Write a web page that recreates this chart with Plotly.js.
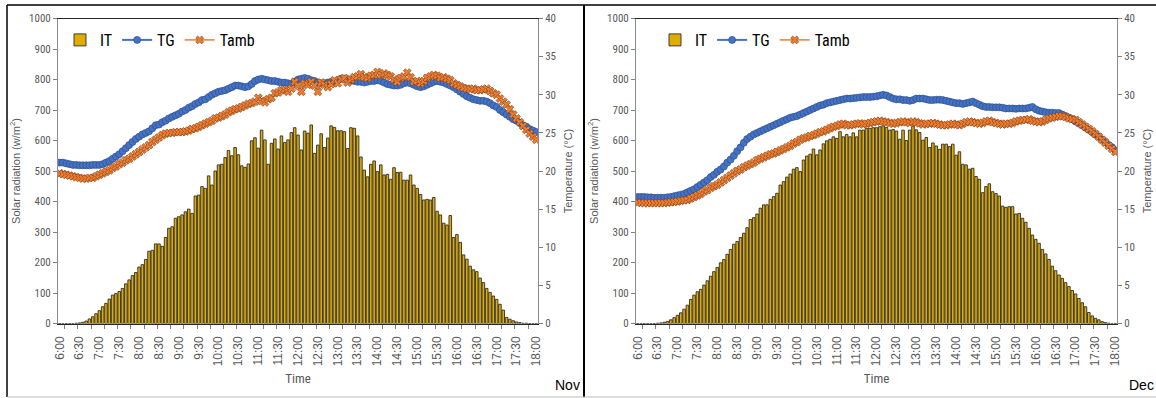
<!DOCTYPE html>
<html><head><meta charset="utf-8">
<script src="https://cdn.plot.ly/plotly-3.0.1.min.js"></script>
<style>html,body{margin:0;padding:0;background:#fff}#chart{width:1156px;height:398px}</style>
</head><body><div id="chart"></div>
<script>
// Time axis labels (every 30 minutes)
const tickLabels = ["6:00","6:30","7:00","7:30","8:00","8:30","9:00","9:30","10:00","10:30","11:00","11:30",
  "12:00","12:30","13:00","13:30","14:00","14:30","15:00","15:30","16:00","16:30","17:00","17:30","18:00"];

// Nov: solar radiation IT (W/m2), 5-min steps 6:00..18:00
const novIT = [
  0,0,0,0,0,1,2,4,8,15,22,32,
  42,55,66,80,93,98,105,115,130,143,157,167,
  185,193,210,237,240,261,261,253,282,312,317,345,
  350,356,366,375,361,418,421,449,443,484,454,500,
  520,522,544,567,550,577,553,517,512,523,599,609,
  575,634,602,522,591,605,572,615,593,602,626,642,
  618,569,631,624,651,558,585,622,577,608,648,643,
  632,632,629,574,642,640,615,546,503,481,522,533,
  498,520,487,489,473,511,495,496,470,470,487,454,
  443,423,405,407,405,413,368,356,329,323,354,282,
  292,266,225,211,188,176,170,149,134,115,102,90,
  79,63,44,20,14,9,5,3,1,1,0,0,
  0];
// Nov: TG (°C)
const novTG = [
  21.1,21.1,21.0,20.9,20.8,20.8,20.75,20.75,20.75,20.75,20.8,20.8,
  20.8,20.9,21.1,21.3,21.6,21.9,22.2,22.6,23.0,23.4,23.8,24.2,
  24.5,24.8,25.0,25.2,25.6,26.0,26.1,26.4,26.6,26.9,27.1,27.3,
  27.5,27.8,28.0,28.3,28.5,28.8,29.0,29.3,29.4,29.7,30.0,30.2,
  30.4,30.5,30.6,30.8,31.0,31.2,31.2,31.1,31.0,31.1,31.4,31.8,
  32.0,32.1,32.0,31.9,31.8,31.8,31.7,31.6,31.6,31.5,31.4,31.7,
  32.0,32.1,32.2,32.1,31.9,31.8,31.6,31.5,31.5,31.6,31.7,31.7,
  31.9,32.1,32.1,32.0,31.9,31.8,31.7,31.7,31.6,31.7,31.8,31.8,
  31.9,31.8,31.6,31.4,31.3,31.2,31.2,31.3,31.5,31.6,31.5,31.3,
  31.1,31.0,31.1,31.3,31.5,31.7,31.8,31.7,31.6,31.4,31.2,31.0,
  30.7,30.4,30.1,29.8,29.6,29.4,29.3,29.2,29.2,29.1,28.9,28.6,
  28.4,28.0,27.7,27.4,27.1,26.8,26.6,26.3,26.0,25.8,25.5,25.3,
  25.1];
// Nov: Tamb (°C)
const novTamb = [
  19.7,19.6,19.5,19.4,19.3,19.2,19.1,19.0,19.0,19.1,19.1,19.3,
  19.5,19.7,19.9,20.1,20.4,20.6,20.9,21.1,21.4,21.6,21.9,22.2,
  22.5,22.8,23.1,23.4,23.8,24.1,24.4,24.7,24.9,25.0,25.0,25.1,
  25.1,25.1,25.2,25.3,25.5,25.6,25.8,26.0,26.2,26.4,26.6,26.9,
  27.0,27.2,27.4,27.7,27.9,28.1,28.2,28.4,28.6,28.8,28.9,29.1,
  29.6,29.2,29.0,29.4,29.6,30.2,30.3,30.6,30.7,30.4,30.8,31.7,
  31.2,30.4,31.5,31.3,31.7,31.2,30.4,31.6,31.3,31.0,31.4,31.9,
  31.5,32.0,32.2,31.6,32.0,32.3,32.4,32.7,32.3,32.2,32.5,32.6,
  33.0,32.6,32.8,32.6,32.4,32.0,31.7,32.2,32.4,32.9,32.3,31.7,
  31.8,31.5,31.8,32.2,32.4,32.6,32.5,32.2,32.3,32.1,31.9,31.5,
  31.3,31.1,30.9,30.8,30.7,30.8,30.6,30.6,30.7,30.8,30.5,30.2,
  30.0,29.5,29.1,28.7,28.1,27.4,26.9,26.4,25.9,25.4,24.9,24.5,
  24.1];

// Dec: solar radiation IT (W/m2)
const decIT = [
  0,0,0,0,0,0,1,2,4,7,12,19,
  27,35,47,60,79,93,104,112,126,140,155,170,
  184,199,210,227,243,260,269,282,296,314,341,347,
  359,378,389,389,407,416,427,454,465,480,490,506,
  511,498,536,549,555,572,553,569,589,599,604,612,
  607,629,612,620,612,625,612,634,634,640,640,642,
  642,645,648,643,634,636,631,604,634,600,634,648,
  635,626,601,610,577,592,582,571,588,588,580,588,
  552,563,522,520,506,509,482,473,429,449,458,432,
  426,418,385,381,383,383,359,361,345,332,312,290,
  276,263,243,228,210,188,173,159,148,134,121,108,
  97,82,68,55,36,25,17,12,6,3,1,0,
  0];
// Dec: TG (°C)
const decTG = [
  16.6,16.6,16.6,16.55,16.55,16.5,16.5,16.5,16.5,16.55,16.6,16.7,
  16.8,16.9,17.0,17.2,17.4,17.6,17.9,18.2,18.5,18.8,19.2,19.5,
  19.9,20.2,20.6,21.1,21.5,22.0,22.6,23.1,23.7,24.2,24.5,24.8,
  25.0,25.2,25.4,25.6,25.8,26.0,26.2,26.4,26.6,26.8,27.0,27.1,
  27.2,27.4,27.6,27.8,28.0,28.2,28.4,28.6,28.7,28.9,29.0,29.1,
  29.2,29.3,29.4,29.5,29.5,29.55,29.6,29.65,29.7,29.7,29.7,29.75,
  29.8,29.9,30.0,29.9,29.7,29.5,29.4,29.4,29.3,29.3,29.2,29.3,
  29.5,29.5,29.5,29.4,29.3,29.3,29.35,29.35,29.3,29.2,29.1,29.0,
  28.9,28.9,28.8,28.9,29.0,29.1,28.9,28.7,28.5,28.4,28.4,28.35,
  28.35,28.35,28.3,28.2,28.2,28.2,28.15,28.2,28.2,28.2,28.3,28.4,
  28.1,27.9,27.8,27.7,27.65,27.65,27.6,27.6,27.4,27.2,27.0,26.8,
  26.5,26.25,26.0,25.7,25.4,25.1,24.8,24.5,24.1,23.8,23.4,23.1,
  22.7];
// Dec: Tamb (°C)
const decTamb = [
  15.85,15.85,15.8,15.8,15.8,15.8,15.8,15.8,15.8,15.85,15.9,15.95,
  16.0,16.1,16.15,16.2,16.4,16.6,16.8,17.0,17.3,17.5,17.8,18.0,
  18.2,18.5,18.8,19.1,19.4,19.7,20.0,20.2,20.5,20.7,20.9,21.1,
  21.4,21.6,21.8,22.0,22.2,22.3,22.5,22.7,22.9,23.1,23.3,23.6,
  23.8,24.1,24.3,24.4,24.6,24.7,24.9,25.1,25.2,25.4,25.6,25.8,
  25.9,26.1,26.2,26.0,26.0,26.1,26.2,26.25,26.1,26.2,26.3,26.4,
  26.5,26.6,26.5,26.4,26.3,26.2,26.3,26.4,26.5,26.4,26.3,26.5,
  26.4,26.25,26.1,26.2,26.2,26.3,26.2,26.1,26.0,26.0,26.1,26.2,
  26.1,26.0,26.2,26.4,26.5,26.4,26.3,26.2,26.3,26.5,26.6,26.4,
  26.3,26.2,26.1,26.2,26.2,26.3,26.5,26.6,26.7,26.7,26.8,26.6,
  26.5,26.4,26.5,26.7,26.9,27.0,27.1,27.2,27.2,27.1,26.9,26.8,
  26.7,26.4,26.1,25.8,25.5,25.2,24.85,24.5,24.1,23.7,23.3,22.9,
  22.5];

// time stamps (minutes since midnight), one per sample
const toMin = s => { const p = s.split(":"); return (+p[0]) * 60 + (+p[1]); };
const times = [];
for (let m = toMin("6:00"); m <= toMin("18:00"); m += 5) times.push(m);
const tickVals = tickLabels.map(toMin);
const minorVals = [];
for (let m = toMin("6:00") + 7.5; m < toMin("18:00"); m += 20) minorVals.push(m);

const W = 1156, H = 398;
const px = v => v / W, py = v => 1 - v / H;

const narrow = "Liberation Sans Narrow, Roboto Condensed, Arial Narrow, Liberation Sans, sans-serif";
const yTickFont = {family: narrow, size: 11, color: "#595959"};
const xTickFont = {family: "Liberation Sans, Arial, sans-serif", size: 12, color: "#595959"};
const legFont = {family: narrow, size: 16, color: "#000"};
const titleFont = {family: "Liberation Sans, Arial, sans-serif", size: 11, color: "#595959"};
const monthFont = {family: "Liberation Sans, Arial, sans-serif", size: 14, color: "#000"};

function panel(it, tg, tamb, xa, ya, ya2, leg) {
  return [
    {type: "bar", name: "IT", x: times, y: it, xaxis: xa, yaxis: ya, legend: leg,
     marker: {color: "#E0AC00", line: {color: "#2e2e2e", width: 0.9}}},
    {type: "scatter", mode: "lines+markers", name: "TG", x: times, y: tg, xaxis: xa, yaxis: ya2, legend: leg,
     line: {color: "#4472C4", width: 2}, marker: {symbol: "circle", size: 7, color: "#4472C4", line: {color: "#2F4F8F", width: 0.7}}},
    {type: "scatter", mode: "lines+markers", name: "Tamb", x: times, y: tamb, xaxis: xa, yaxis: ya2, legend: leg,
     line: {color: "#ED7D31", width: 1.5}, marker: {symbol: "x", size: 7, color: "#ED7D31", line: {color: "#7a3a10", width: 0.6}}}
  ];
}

const data = [].concat(
  panel(novIT, novTG, novTamb, "x", "y", "y2", "legend"),
  panel(decIT, decTG, decTamb, "x2", "y3", "y4", "legend2")
);

const yDom = [1 - 323.5 / H, 1 - 18.5 / H];
function xAx(d) {
  return {domain: d, range: [toMin("6:00") - 2.5, toMin("18:00") + 2.5], tickmode: "array", tickvals: tickVals, ticktext: tickLabels,
    tickangle: -90, ticks: "", ticklabelstandoff: 7, tickfont: xTickFont, showline: true, linecolor: "#262626", linewidth: 1, mirror: true,
    showgrid: false, zeroline: false, fixedrange: true,
    minor: {tickmode: "array", tickvals: minorVals, ticks: "outside", ticklen: 4, tickcolor: "#808080", showgrid: false},
    title: {text: "Time", font: {family: narrow, size: 13, color: "#595959"}, standoff: 8}};
}
function yLeft(anchor) {
  return {domain: yDom, anchor: anchor, range: [0, 1000], dtick: 100, ticks: "outside", ticklen: 4, tickcolor: "#808080",
    tickfont: yTickFont, showline: true, linecolor: "#8c8c8c", showgrid: false, zeroline: false,
    title: {text: "Solar radiation (w/m<sup>2</sup>)", font: titleFont, standoff: 6}};
}
function yRight(anchor, over) {
  return {domain: yDom, anchor: anchor, overlaying: over, side: "right", range: [0, 40], dtick: 5, ticks: "outside", ticklen: 4,
    tickcolor: "#808080", tickfont: yTickFont, showline: true, linecolor: "#8c8c8c", showgrid: false, zeroline: false,
    title: {text: "Temperature (°C)", font: titleFont, standoff: 9}};
}

const layout = {
  width: W, height: H, margin: {l: 0, r: 0, t: 0, b: 0},
  paper_bgcolor: "#fff", plot_bgcolor: "#fff",
  barmode: "group", bargap: 0.22,
  xaxis: Object.assign(xAx([px(58), px(538)]), {anchor: "y"}),
  yaxis: yLeft("x"),
  yaxis2: yRight("x", "y"),
  xaxis2: Object.assign(xAx([px(636), px(1117)]), {anchor: "y3"}),
  yaxis3: yLeft("x2"),
  yaxis4: yRight("x2", "y3"),
  legend: {x: px(60), y: py(40), xanchor: "left", yanchor: "middle", orientation: "h", font: legFont,
    bgcolor: "rgba(0,0,0,0)", itemwidth: 30, tracegroupgap: 0},
  legend2: {x: px(655), y: py(40), xanchor: "left", yanchor: "middle", orientation: "h", font: legFont,
    bgcolor: "rgba(0,0,0,0)", itemwidth: 30, tracegroupgap: 0},
  annotations: [
    {text: "Nov", xref: "paper", yref: "paper", x: px(567), y: py(385), xanchor: "center", yanchor: "middle", showarrow: false, font: monthFont},
    {text: "Dec", xref: "paper", yref: "paper", x: px(1141), y: py(385), xanchor: "center", yanchor: "middle", showarrow: false, font: monthFont}
  ],
  shapes: [
    {type: "line", xref: "paper", yref: "paper", x0: px(7), x1: 1, y0: py(5), y1: py(5), line: {color: "#000", width: 1.5}},
    {type: "line", xref: "paper", yref: "paper", x0: px(7), x1: px(7), y0: py(5), y1: py(397), line: {color: "#000", width: 1.5}},
    {type: "line", xref: "paper", yref: "paper", x0: px(584), x1: px(584), y0: py(5), y1: py(397), line: {color: "#000", width: 2}},
    {type: "line", xref: "paper", yref: "paper", x0: px(7), x1: 1, y0: py(397), y1: py(397), line: {color: "#bdbdbd", width: 1}}
  ]
};

Plotly.newPlot("chart", data, layout, {displayModeBar: false, staticPlot: true});
</script>
</body></html>
